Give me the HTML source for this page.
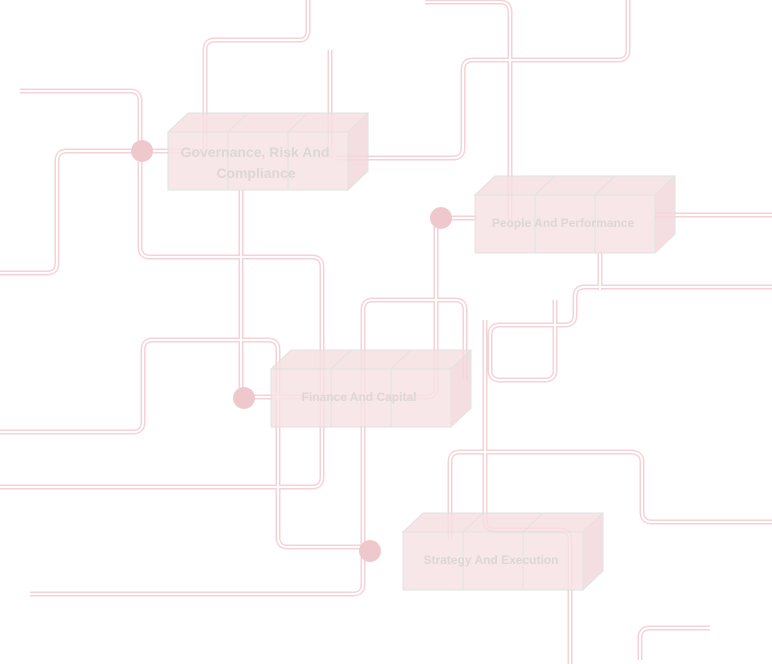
<!DOCTYPE html>
<html><head><style>
html,body{margin:0;padding:0;background:#fff;width:772px;height:664px;overflow:hidden}
svg{display:block}
.t{font-family:"Liberation Sans",sans-serif;font-weight:bold;fill:#dcd6d6}
</style></head><body>
<svg width="772" height="664" viewBox="0 0 772 664">
<defs>
<g id="P" fill="none" stroke-linejoin="round">
<path d="M20 91 H130 Q140 91 140 101 V247 Q140 257 150 257 H312 Q322 257 322 267 V477 Q322 487 312 487 H0"/>
<path d="M142 151 H67 Q57 151 57 161 V263 Q57 273 47 273 H0"/>
<path d="M142 151 H200"/>
<path d="M205 150 V50 Q205 40 215 40 H300 Q308 40 308 30 V0"/>
<path d="M330 50 V148 Q330 158 340 158 H453 Q463 158 463 148 V70 Q463 60 473 60 H618 Q628 60 628 50 V0"/>
<path d="M425 2 H500 Q510 2 510 12 V225"/>
<path d="M441 218 H436 V387 Q436 397 426 397 H244"/>
<path d="M441 218 H478"/>
<path d="M241 190 V398"/>
<path d="M150 340 H268 Q278 340 278 350 V537 Q278 547 288 547 H370"/>
<path d="M0 432 H133 Q143 432 143 422 V350 Q143 340 153 340"/>
<path d="M30 594 H353 Q363 594 363 584 V310 Q363 300 373 300 H455 Q465 300 465 310 V380"/>
<path d="M655 215 H772"/>
<path d="M772 287 H585 Q575 287 575 297 V315 Q575 325 565 325 H500 Q490 325 490 335 V370 Q490 380 500 380 H545 Q555 380 555 370 V300"/>
<path d="M600 250 V290"/>
<path d="M485 320 V520 Q485 530 495 530 H560 Q570 530 570 540 V664"/>
<path d="M450 540 V462 Q450 452 460 452 H630 Q642 452 642 462 V512 Q642 522 652 522 H772"/>
<path d="M640 660 V638 Q640 628 650 628 H710"/>
</g>
<g id="C">
<polygon points="0,0 20,-19 200,-19 180,0" fill="#f6dfe1" stroke="#ddd"/>
<polygon points="180,0 200,-19 200,39 180,58" fill="#f3d9dc" stroke="#ddd"/>
<rect x="0" y="0" width="60" height="58" fill="#f7e3e5" stroke="#ddd"/>
<rect x="60" y="0" width="60" height="58" fill="#f7e3e5" stroke="#ddd"/>
<rect x="120" y="0" width="60" height="58" fill="#f7e3e5" stroke="#ddd"/>
<line x1="60" y1="0" x2="80" y2="-19" stroke="#ddd"/>
<line x1="120" y1="0" x2="140" y2="-19" stroke="#ddd"/>
</g>
</defs>
<use href="#P" stroke="#f6d2d7" stroke-width="5"/>
<use href="#P" stroke="#fff" stroke-width="2"/>
<g opacity="0.85">
<use href="#C" x="168" y="132"/>
<use href="#C" x="475" y="195"/>
<use href="#C" x="271" y="369"/>
<use href="#C" x="403" y="532"/>
</g>
<g fill="#efc8cd">
<circle cx="142" cy="151" r="11"/>
<circle cx="441" cy="218" r="11"/>
<circle cx="244" cy="398" r="11"/>
<circle cx="370" cy="551" r="11"/>
</g>
<text class="t" x="255" y="157" font-size="14" text-anchor="middle">Governance, Risk And</text>
<text class="t" x="256" y="178" font-size="14" text-anchor="middle">Compliance</text>
<text class="t" x="563" y="227" font-size="12" text-anchor="middle">People And Performance</text>
<text class="t" x="359" y="401" font-size="12" text-anchor="middle">Finance And Capital</text>
<text class="t" x="491" y="564" font-size="12" text-anchor="middle">Strategy And Execution</text>
</svg>
</body></html>
